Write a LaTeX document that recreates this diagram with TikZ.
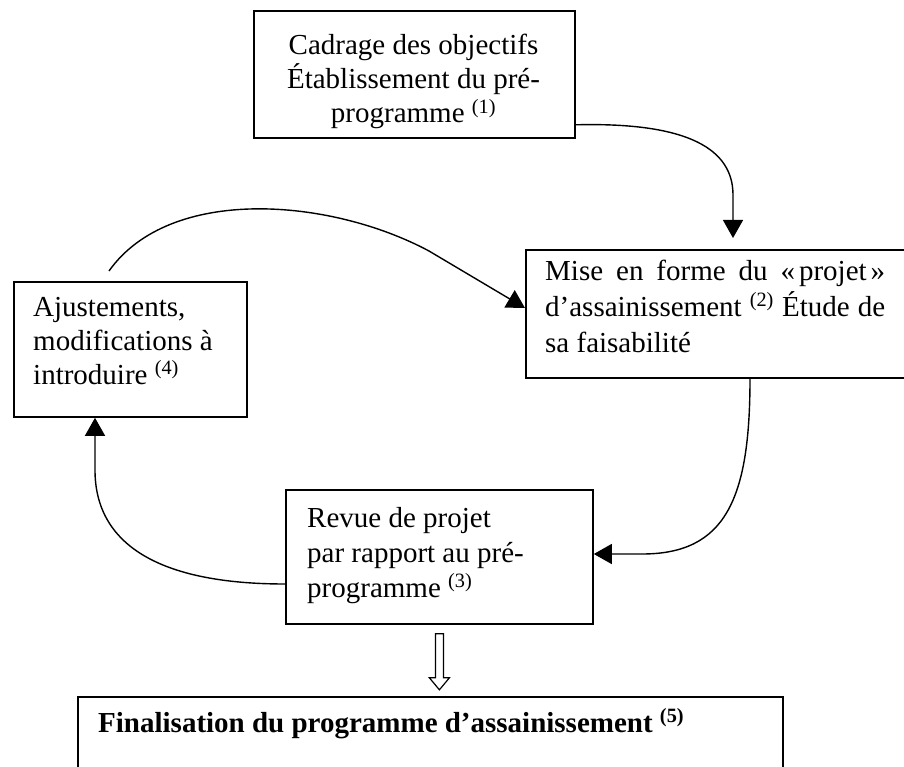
\documentclass[tikz,border=0pt]{standalone}
\usepackage{fontspec}
\setmainfont{Liberation Serif}
\usetikzlibrary{arrows.meta,calc}
\begin{document}
\begin{tikzpicture}[x=1pt,y=-1pt,
  box/.style={draw, line width=1.8pt, inner sep=0pt, anchor=north west},
  txt/.style={inner sep=0pt, font=\fontsize{29}{34}\selectfont},
  conn/.style={line width=1.4pt, -{Triangle[length=18pt,width=20pt]}},
  hollow/.style={draw, line width=1.2pt, fill=white, line join=miter},
  ]
\useasboundingbox (0,0) rectangle (904,767);

% --- boxes ---
\node[box, minimum width=321pt, minimum height=127pt] (cadrage)   at (253,10)  {};
\node[box, minimum width=385pt, minimum height=128pt] (miseforme) at (525,249) {};
\node[box, minimum width=233pt, minimum height=135pt] (ajust)     at (13,281)  {};
\node[box, minimum width=307pt, minimum height=134pt] (revue)     at (285,489) {};
\node[box, minimum width=705pt, minimum height=120pt] (final)     at (77,696)  {};

% --- texts ---
\node[txt, anchor=base] (cadrage1) at (413.5,55)  {Cadrage des objectifs};
\node[txt, anchor=base] (cadrage2) at (413.5,89)  {Établissement du pré-};
\node[txt, anchor=base] (cadrage3) at (413.5,123) {programme \textsuperscript{(1)}};

\node[txt, anchor=base west] (mise1) at (545,280) {\makebox[340pt][s]{Mise en forme du «\kern4pt projet\kern4pt»}};
\node[txt, anchor=base west] (mise2) at (545,316) {\makebox[340pt][s]{d’assainissement \textsuperscript{(2)} Étude de}};
\node[txt, anchor=base west] (mise3) at (545,352) {sa faisabilité};

\node[txt, anchor=base west] (ajust1) at (33,316) {Ajustements,};
\node[txt, anchor=base west] (ajust2) at (33,350) {modifications à};
\node[txt, anchor=base west] (ajust3) at (33,384) {introduire \textsuperscript{(4)}};

\node[txt, anchor=base west] (revue1) at (307,527) {Revue de projet};
\node[txt, anchor=base west] (revue2) at (307,562) {par rapport au pré-};
\node[txt, anchor=base west] (revue3) at (307,597) {programme \textsuperscript{(3)}};

\node[txt, anchor=base west, font=\fontsize{29}{34}\selectfont\bfseries] (final1) at (98,732)
  {Finalisation du programme d’assainissement \textsuperscript{(5)}};

% --- connectors ---
\draw[conn] ($(cadrage.south east)+(0,-14)$)
  .. controls (690,122) and (733,150) .. (733,195)
  -- ($(miseforme.north west)+(208,-11)$);

\draw[conn] ($(miseforme.south west)+(225,0)$)
  .. controls (750,500) and (725,554) .. (642,554)
  -- ($(revue.north east)+(0,65)$);

\draw[conn] ($(revue.north west)+(0,95)$)
  .. controls (160,584) and (95,545) .. (95,470)
  -- ($(ajust.south west)+(82,0)$);

\draw[conn] ($(ajust.north west)+(96,-10)$)
  .. controls (170,185) and (330,198) .. (429,251)
  -- ($(miseforme.north west)+(0,59)$);

% hollow arrow towards the final box
\draw[hollow] ($(revue.south)+(-4,9)$) -- ++(0,44) -- ++(-6,0) -- ++(10,12)
  -- ++(10,-12) -- ++(-6,0) -- ++(0,-44) -- cycle;
\end{tikzpicture}
\end{document}
